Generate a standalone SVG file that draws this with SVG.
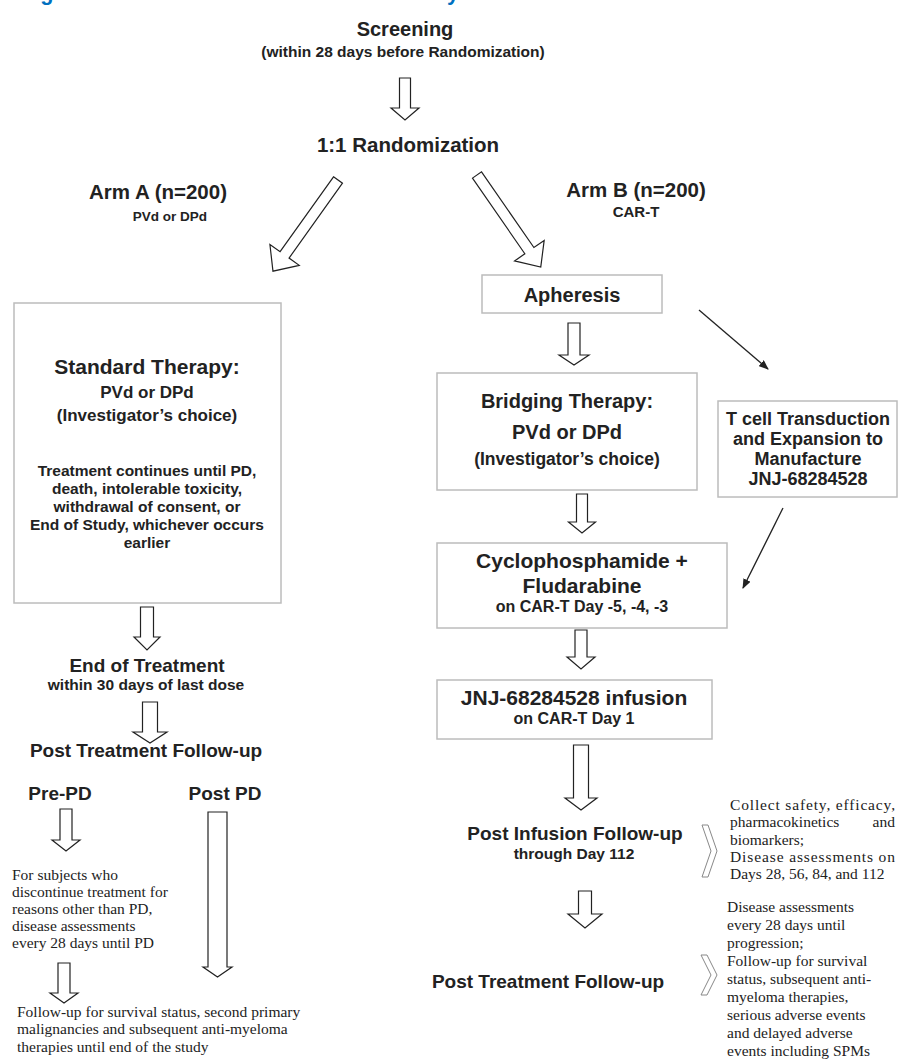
<svg xmlns="http://www.w3.org/2000/svg" width="898" height="1061" viewBox="0 0 898 1061">
<style>
.b{font-family:"Liberation Sans",Arial,sans-serif;font-weight:bold;fill:#222;text-anchor:middle}
.s{font-family:"Liberation Serif","Times New Roman",serif;fill:#222}
.box{fill:#fff;stroke:#bcbcbc;stroke-width:1.5}
.ha{fill:#fff;stroke:#222;stroke-width:1.2;stroke-linejoin:miter}
.ln{stroke:#222;stroke-width:1.3;fill:none}
.chev{fill:#fff;stroke:#888;stroke-width:1}
</style>
<defs>
<marker id="ah" markerWidth="10" markerHeight="8" refX="9" refY="4" orient="auto" markerUnits="userSpaceOnUse">
<path d="M0,0 L10,4 L0,8 Z" fill="#222"/>
</marker>
</defs>
<rect width="898" height="1061" fill="#fff"/>
<text x="21" y="0" font-family="Liberation Sans,Arial,sans-serif" font-weight="bold" font-size="21.6" fill="#0070C0">Figure 1: Schematic Overview of the Study</text>

<g id="screening">
<text class="b" x="405" y="36" font-size="20">Screening</text>
<text class="b" x="403" y="57" font-size="15.5">(within 28 days before Randomization)</text>
</g>
<g id="randomization">
<text class="b" x="408" y="152" font-size="20.5">1:1 Randomization</text>
</g>
<g id="armA">
<text class="b" x="158" y="199" font-size="20.5">Arm A (n=200)</text>
<text class="b" x="170" y="221" font-size="13.5">PVd or DPd</text>
</g>
<g id="armB">
<text class="b" x="636" y="197" font-size="20.5">Arm B (n=200)</text>
<text class="b" x="636" y="217" font-size="15">CAR-T</text>
</g>

<g id="standard">
<rect class="box" x="14" y="303" width="267" height="300"/>
<text class="b" x="147" y="374" font-size="21">Standard Therapy:</text>
<text class="b" x="147" y="398" font-size="17">PVd or DPd</text>
<text class="b" x="147" y="421" font-size="17">(Investigator’s choice)</text>
<text class="b" x="147" y="476" font-size="15.5">Treatment continues until PD,</text>
<text class="b" x="147" y="494" font-size="15.5">death, intolerable toxicity,</text>
<text class="b" x="147" y="512" font-size="15.5">withdrawal of consent, or</text>
<text class="b" x="147" y="530" font-size="15.5">End of Study, whichever occurs</text>
<text class="b" x="147" y="548" font-size="15.5">earlier</text>
</g>
<g id="eot">
<text class="b" x="147" y="672" font-size="19">End of Treatment</text>
<text class="b" x="146" y="690" font-size="15.5">within 30 days of last dose</text>
</g>
<g id="ptfA">
<text class="b" x="146" y="757" font-size="19">Post Treatment Follow-up</text>
</g>
<g id="prepd">
<text class="b" x="60" y="800" font-size="19">Pre-PD</text>
</g>
<g id="postpd">
<text class="b" x="225" y="800" font-size="19">Post PD</text>
</g>
<g id="prepdtext">
<text class="s" font-size="15.5"><tspan x="12" y="880">For subjects who</tspan><tspan x="12" y="897">discontinue treatment for</tspan><tspan x="12" y="914">reasons other than PD,</tspan><tspan x="12" y="931">disease assessments</tspan><tspan x="12" y="948">every 28 days until PD</tspan></text>
</g>
<g id="followA">
<text class="s" font-size="15.5"><tspan x="17" y="1017">Follow-up for survival status, second primary</tspan><tspan x="17" y="1034">malignancies and subsequent anti-myeloma</tspan><tspan x="17" y="1052">therapies until end of the study</tspan></text>
</g>

<g id="apheresis">
<rect class="box" x="482" y="275" width="180" height="38"/>
<text class="b" x="572" y="302" font-size="20">Apheresis</text>
</g>
<g id="bridging">
<rect class="box" x="437" y="373" width="260" height="117"/>
<text class="b" x="567" y="408" font-size="20">Bridging Therapy:</text>
<text class="b" x="567" y="439" font-size="20">PVd or DPd</text>
<text class="b" x="567" y="465" font-size="17.5">(Investigator’s choice)</text>
</g>
<g id="tcell">
<rect class="box" x="718" y="401" width="179" height="96"/>
<text class="b" x="808" y="425" font-size="18">T cell Transduction</text>
<text class="b" x="808" y="445" font-size="18">and Expansion to</text>
<text class="b" x="808" y="465" font-size="18">Manufacture</text>
<text class="b" x="808" y="485" font-size="18">JNJ-68284528</text>
</g>
<g id="cyclo">
<rect class="box" x="437" y="543" width="290" height="85"/>
<text class="b" x="582" y="568" font-size="21">Cyclophosphamide +</text>
<text class="b" x="582" y="593" font-size="21">Fludarabine</text>
<text class="b" x="582" y="612" font-size="16">on CAR-T Day -5, -4, -3</text>
</g>
<g id="infusion">
<rect class="box" x="437" y="680" width="275" height="59"/>
<text class="b" x="574" y="705" font-size="21">JNJ-68284528 infusion</text>
<text class="b" x="574" y="724" font-size="16">on CAR-T Day 1</text>
</g>
<g id="pif">
<text class="b" x="575" y="840" font-size="19">Post Infusion Follow-up</text>
<text class="b" x="574" y="859" font-size="15.5">through Day 112</text>
</g>
<g id="pifnote">
<text class="s" font-size="15.5" x="730" y="810" textLength="165" lengthAdjust="spacing">Collect safety, efficacy,</text>
<text class="s" font-size="15.5" x="730" y="827">pharmacokinetics</text>
<text class="s" font-size="15.5" x="895" y="827" text-anchor="end">and</text>
<text class="s" font-size="15.5" x="730" y="845">biomarkers;</text>
<text class="s" font-size="15.5" x="730" y="862" textLength="165" lengthAdjust="spacing">Disease assessments on</text>
<text class="s" font-size="15.5" x="730" y="879">Days 28, 56, 84, and 112</text>
</g>
<g id="ptfB">
<text class="b" x="548" y="988" font-size="19">Post Treatment Follow-up</text>
</g>
<g id="ptfnote">
<text class="s" font-size="15.5"><tspan x="727" y="912">Disease assessments</tspan><tspan x="727" y="930">every 28 days until</tspan><tspan x="727" y="948">progression;</tspan><tspan x="727" y="966">Follow-up for survival</tspan><tspan x="727" y="984">status, subsequent anti-</tspan><tspan x="727" y="1002">myeloma therapies,</tspan><tspan x="727" y="1020">serious adverse events</tspan><tspan x="727" y="1038">and delayed adverse</tspan><tspan x="727" y="1056">events including SPMs</tspan></text>
</g>

<g id="connectors">
<polygon class="ha" points="399.5,78 410.5,78 410.5,108 419,108 405,120 391,108 399.5,108"/>
<g transform="translate(338,180) rotate(35.5)"><polygon class="ha" points="-5.5,0 5.5,0 5.5,92 18,92 0,112 -18,92 -5.5,92"/></g>
<g transform="translate(477,175) rotate(-34.7)"><polygon class="ha" points="-5.5,0 5.5,0 5.5,92 18,92 0,112 -18,92 -5.5,92"/></g>
<polygon class="ha" points="568,323 580,323 580,355 589,355 574,365 559,355 568,355"/>
<polygon class="ha" points="576.5,494 587.5,494 587.5,522 595.5,522 582,533 568.5,522 576.5,522"/>
<polygon class="ha" points="575,630 587,630 587,657 595,657 581,669 567,657 575,657"/>
<polygon class="ha" points="573.5,745 588.5,745 588.5,798 597,798 581,810 565,798 573.5,798"/>
<polygon class="ha" points="578.5,891 591.5,891 591.5,914 602,914 585,928 568,914 578.5,914"/>
<polygon class="ha" points="140.5,607 153.5,607 153.5,637 160,637 147,650 134,637 140.5,637"/>
<polygon class="ha" points="142.5,702 157.5,702 157.5,732 167,732 150,743 133,732 142.5,732"/>
<polygon class="ha" points="60,809 72,809 72,840 80,840 66,851 52,840 60,840"/>
<polygon class="ha" points="208,812 227,812 227,967 232,967 217.5,977 203,967 208,967"/>
<polygon class="ha" points="58,963 70,963 70,993 78,993 64,1003 50,993 58,993"/>
<line class="ln" x1="699" y1="310" x2="768" y2="369" marker-end="url(#ah)"/>
<line class="ln" x1="783" y1="508" x2="743" y2="588" marker-end="url(#ah)"/>
<polygon class="chev" points="702,825 708,825 717,851 708,877 702,877 711,851"/>
<polygon class="chev" points="701,955 707,955 717,975 707,995 701,995 711,975"/>
</g>
</svg>
